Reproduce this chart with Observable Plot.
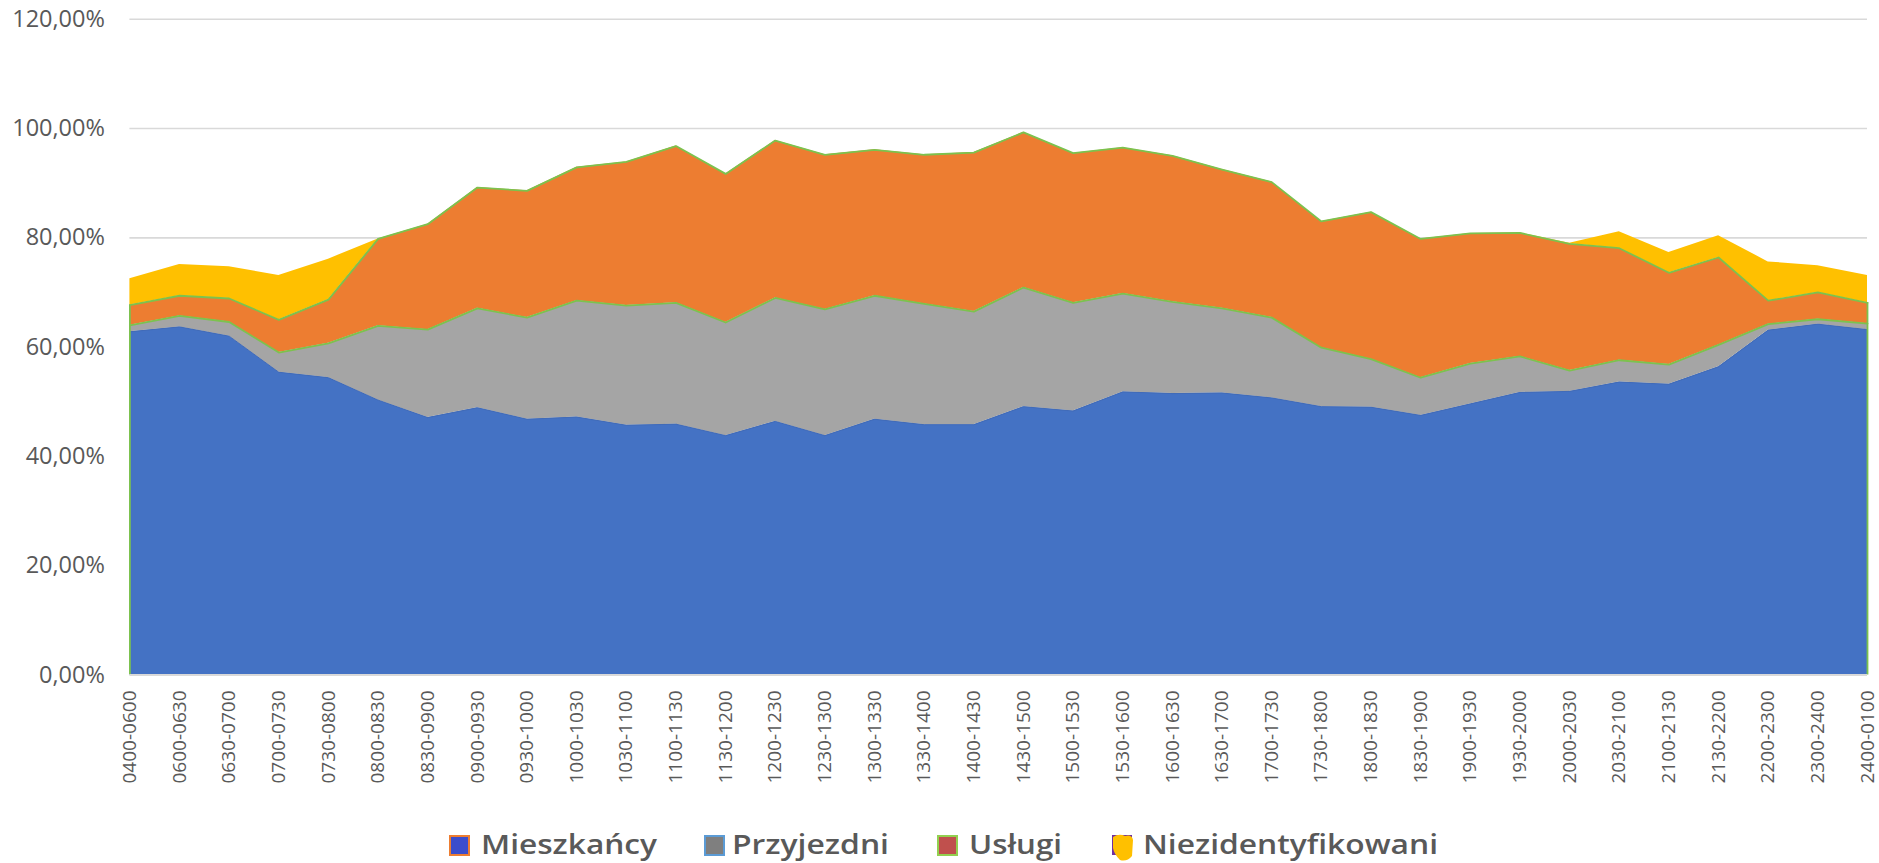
<!DOCTYPE html>
<html>
<head>
<meta charset="utf-8">
<script src="https://cdn.jsdelivr.net/npm/d3@7"></script>
<script src="https://cdn.jsdelivr.net/npm/@observablehq/plot@0.6"></script>
<style>
  html, body { margin: 0; padding: 0; background: #fff; }
  #chart svg, #legend svg { display: block; }
</style>
</head>
<body>
<div id="chart"></div>
<div id="legend"></div>
<script>
// ---- Data (percent shares per half-hour slot) ----
const slots = ["0400-0600","0600-0630","0630-0700","0700-0730","0730-0800","0800-0830","0830-0900","0900-0930","0930-1000","1000-1030","1030-1100","1100-1130","1130-1200","1200-1230","1230-1300","1300-1330","1330-1400","1400-1430","1430-1500","1500-1530","1530-1600","1600-1630","1630-1700","1700-1730","1730-1800","1800-1830","1830-1900","1900-1930","1930-2000","2000-2030","2030-2100","2100-2130","2130-2200","2200-2300","2300-2400","2400-0100"];
const mieszkancy = [62.8,63.7,62.0,55.4,54.4,50.3,47.1,48.9,46.8,47.2,45.7,45.9,43.8,46.4,43.8,46.8,45.8,45.8,49.1,48.3,51.8,51.5,51.6,50.7,49.1,49.0,47.5,49.6,51.7,51.9,53.6,53.2,56.4,63.1,64.2,63.2];
const przyjezdni = [1.2,2.0,2.6,3.6,6.3,13.6,16.1,18.2,18.6,21.3,21.9,22.2,20.7,22.6,23.1,22.6,22.1,20.7,21.8,19.8,18.0,16.8,15.5,14.7,10.8,8.8,6.9,7.4,6.6,3.8,4.0,3.6,4.0,1.1,0.9,1.1];
const uslugi = [3.7,3.7,4.3,6.0,8.0,15.9,19.3,22.1,23.2,24.4,26.3,28.7,27.2,28.8,28.3,26.7,27.3,29.1,28.4,27.4,26.7,26.7,25.4,24.8,23.1,26.9,25.4,23.8,22.6,23.2,20.5,16.8,16.0,4.3,4.9,3.8];
const niezidentyfikowani = [4.8,5.7,5.8,8.1,7.4,0,0,0,0,0,0,0,0,0,0,0,0,0,0,0,0,0,0,0,0,0,0,0,0,0.1,3.0,3.7,4.0,7.1,4.9,5.0];
const seriesNames = ["Mieszkańcy","Przyjezdni","Usługi","Niezidentyfikowani"];
const yTicks = [0,20,40,60,80,100,120];

// ---- Styles ----
const areaColors = ["#4472C4","#A5A5A5","#ED7D31","#FFC000"];
const legendFill = ["#3B4DCC","#7F7F7F","#C0504D","#FFC000"];
const legendStroke = ["#ED7D31","#5B9BD5","#92D050","#7030A0"];
const green = "#7CC24E";
const textColor = "#595959";

const seriesValues = [mieszkancy, przyjezdni, uslugi, niezidentyfikowani];
const long = [];
seriesNames.forEach((s, k) => slots.forEach((slot, i) => long.push({i, slot, series: s, value: seriesValues[k][i]})));

const blueTop = slots.map((slot, i) => ({i, v: mieszkancy[i]}));
const grayTop = slots.map((slot, i) => ({i, v: mieszkancy[i] + przyjezdni[i]}));
const orangeTop = slots.map((slot, i) => ({i, v: mieszkancy[i] + przyjezdni[i] + uslugi[i]}));
const edges = [orangeTop[0], orangeTop[orangeTop.length - 1]];

const W = 1879, ML = 129.4, MR = 12;

const chart = Plot.plot({
  width: W,
  height: 810,
  marginLeft: ML,
  marginRight: MR,
  marginTop: 18.75,
  marginBottom: 135.5,
  style: {fontFamily: "'Open Sans', sans-serif", background: "#fff"},
  x: {type: "linear", domain: [0, slots.length - 1], axis: null},
  y: {domain: [0, 120]},
  color: {domain: seriesNames, range: areaColors},
  marks: [
    Plot.ruleY(yTicks.filter(d => d > 0), {stroke: "#d9d9d9", strokeWidth: 1.6}),
    Plot.areaY(long, {x: "i", y: "value", z: "series", fill: "series"}),
    Plot.lineY(blueTop, {x: "i", y: "v", stroke: "#416bb8", strokeWidth: 1}),
    Plot.lineY(grayTop, {x: "i", y: "v", stroke: green, strokeWidth: 1.8}),
    Plot.lineY(orangeTop, {x: "i", y: "v", stroke: green, strokeWidth: 1.8}),
    Plot.ruleX(edges, {x: "i", y1: 0, y2: "v", stroke: green, strokeWidth: 1.8}),
    Plot.ruleY([0], {stroke: "#d9d9d9", strokeWidth: 2}),
    Plot.axisY(yTicks, {
      tickSize: 0,
      tickPadding: 25,
      tickFormat: d => d.toFixed(2).replace(".", ",") + "%",
      fontSize: 23.5,
      fill: textColor,
      label: null
    }),
    Plot.text(slots, {
      x: (d, i) => i,
      text: d => d,
      frameAnchor: "bottom",
      dy: 15.5,
      rotate: -90,
      textAnchor: "end",
      lineAnchor: "middle",
      fontSize: 19,
      fill: textColor
    })
  ]
});
document.getElementById("chart").appendChild(chart);

// ---- Legend (below the plot) ----
const legendLayout = [
  {mx: 449, tx: 481, tw: 176},
  {mx: 704, tx: 732, tw: 157},
  {mx: 937, tx: 969, tw: 93},
  {mx: 1111, tx: 1143, tw: 295}
];
const lsvg = d3.create("svg").attr("width", W).attr("height", 53)
  .style("font-family", "'Open Sans', sans-serif");
seriesNames.forEach((name, k) => {
  const L = legendLayout[k];
  const g = lsvg.append("g");
  if (k === 3) {
    g.append("rect").attr("x", L.mx + 1).attr("y", 25).attr("width", 20).attr("height", 20)
      .attr("fill", legendStroke[k]);
    g.append("path")
      .attr("d", `M${L.mx+2},${27} Q${L.mx+8},${23} ${L.mx+14},${26} Q${L.mx+21},${24} ${L.mx+22},${30} L${L.mx+21},${46} Q${L.mx+16},${52} ${L.mx+9},${50} Q${L.mx+3},${44} ${L.mx+2},${38} Z`)
      .attr("fill", legendFill[k]);
  } else {
    g.append("rect").attr("x", L.mx + 1).attr("y", 26).attr("width", 19).attr("height", 19)
      .attr("fill", legendFill[k]).attr("stroke", legendStroke[k]).attr("stroke-width", 2);
  }
  g.append("text").attr("x", L.tx).attr("y", 44)
    .attr("font-size", 27).attr("font-weight", 600).attr("fill", textColor)
    .attr("textLength", L.tw).attr("lengthAdjust", "spacingAndGlyphs")
    .text(name);
});
document.getElementById("legend").appendChild(lsvg.node());
</script>
</body>
</html>
